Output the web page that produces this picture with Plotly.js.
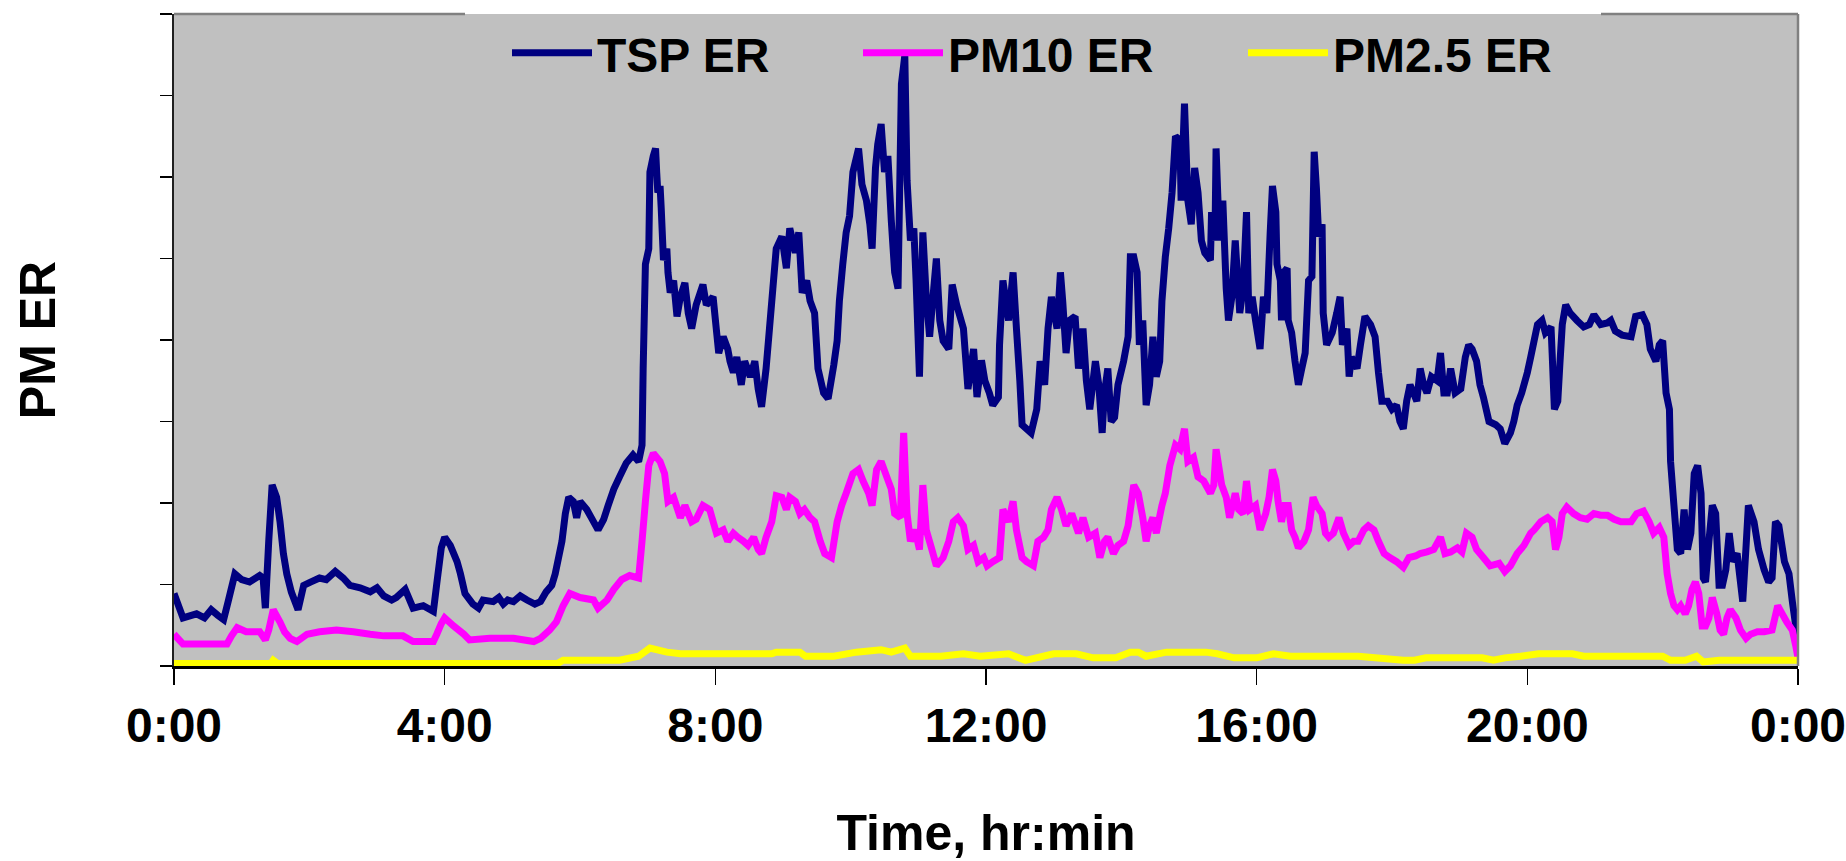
<!DOCTYPE html>
<html><head><meta charset="utf-8">
<script src="https://cdn.plot.ly/plotly-3.0.1.min.js"></script>
<style>html,body{margin:0;padding:0;background:#fff}#chart{width:1846px;height:861px}</style>
</head><body><div id="chart"></div>
<script>
// time in minutes after midnight, values in arbitrary PM ER units (axis unlabeled)
const tspMin = [0,8,20,27,33,39,44,48,54,60,67,76,79,81,84,87,91,94,97,100,104,110,115,121,129,135,143,150,156,165,174,180,186,193,197,205,212,221,230,233,237,240,245,251,254,258,265,270,274,283,288,292,296,301,307,313,320,325,330,335,338,341,344,347,350,354,357,360,366,370,376,381,385,390,395,401,407,412,415,416,418,421,422,425,427,428,429,431,432,434,437,438,440,443,446,449,453,456,459,463,469,472,478,483,487,491,493,496,499,503,506,511,515,518,521,525,528,531,534,539,543,546,551,554,557,561,564,568,571,576,580,585,588,590,593,596,599,602,607,610,614,617,619,622,624,627,630,633,636,639,642,645,648,650,653,656,658,661,664,667,670,673,676,679,682,687,690,694,700,704,709,712,716,719,723,726,731,732,735,740,744,747,750,752,756,760,765,768,772,775,778,783,786,788,791,794,799,802,806,809,812,817,820,823,825,828,831,834,837,842,846,848,851,854,856,859,862,865,868,871,874,876,879,882,885,888,892,893,896,899,902,905,908,911,914,919,920,923,924,927,930,933,935,938,941,945,948,951,953,956,959,963,966,969,972,974,977,978,981,982,984,987,988,991,994,997,1000,1003,1006,1009,1011,1013,1015,1018,1019,1022,1027,1031,1034,1036,1040,1042,1044,1049,1052,1056,1061,1065,1068,1071,1076,1080,1084,1087,1090,1093,1096,1099,1102,1105,1108,1111,1115,1120,1123,1126,1129,1132,1136,1141,1145,1148,1151,1155,1158,1161,1166,1172,1176,1180,1185,1188,1191,1195,1200,1203,1206,1209,1213,1216,1221,1222,1224,1227,1229,1231,1234,1238,1244,1250,1255,1259,1265,1271,1274,1278,1284,1292,1296,1302,1306,1309,1314,1317,1320,1323,1326,1327,1330,1333,1336,1339,1342,1345,1348,1351,1354,1356,1358,1361,1364,1367,1370,1373,1376,1379,1382,1386,1391,1394,1396,1401,1405,1410,1414,1417,1420,1423,1428,1432,1435,1438,1440];
const tspVal = [0.89,0.59,0.64,0.59,0.69,0.62,0.57,0.79,1.13,1.06,1.03,1.11,1.08,0.71,1.53,2.22,2.07,1.77,1.38,1.13,0.91,0.69,0.99,1.03,1.08,1.06,1.16,1.08,0.99,0.96,0.91,0.96,0.86,0.81,0.84,0.94,0.71,0.74,0.67,1.01,1.45,1.58,1.48,1.28,1.13,0.89,0.76,0.71,0.81,0.79,0.84,0.76,0.81,0.79,0.86,0.81,0.76,0.79,0.91,0.99,1.13,1.33,1.53,1.87,2.07,2.02,1.82,2.02,1.92,1.82,1.67,1.80,1.97,2.17,2.32,2.49,2.59,2.51,2.71,3.65,4.93,5.12,6.06,6.26,6.35,6.06,5.81,5.89,5.62,4.98,5.12,4.83,4.58,4.73,4.29,4.53,4.70,4.33,4.14,4.43,4.68,4.43,4.53,3.84,4.04,3.89,3.74,3.60,3.79,3.45,3.74,3.55,3.74,3.40,3.18,3.65,4.14,4.63,5.12,5.27,4.88,5.37,5.07,5.32,4.58,4.73,4.48,4.33,3.65,3.35,3.28,3.69,3.99,4.48,4.93,5.32,5.52,6.06,6.35,5.91,5.71,5.42,5.12,6.11,6.40,6.65,6.06,6.26,5.47,4.83,4.63,7.14,7.49,5.96,5.22,5.37,4.73,3.55,5.32,4.53,4.04,4.53,5.00,4.24,3.99,3.89,4.68,4.43,4.14,3.40,3.89,3.30,3.75,3.50,3.35,3.20,3.30,3.94,4.73,4.24,4.83,4.14,3.50,2.96,2.91,2.86,3.15,3.74,3.45,4.14,4.53,4.14,4.83,4.48,3.84,4.24,4.29,3.65,4.14,3.50,3.15,3.74,3.45,2.86,3.35,3.65,3.00,3.05,3.45,3.74,4.04,5.02,5.02,4.83,3.94,4.24,3.20,3.45,4.04,3.55,3.74,4.48,5.02,5.37,5.81,6.50,6.45,5.71,6.90,5.71,5.42,6.11,5.81,5.22,5.07,4.98,5.57,5.22,6.35,5.22,5.71,4.63,4.24,4.53,5.22,4.33,4.63,5.57,4.33,4.53,4.24,3.89,4.53,4.33,5.32,5.89,5.57,4.93,4.73,4.24,4.83,4.88,4.24,4.09,3.74,3.45,3.65,3.84,4.73,4.78,6.31,5.86,5.27,5.42,4.33,3.94,4.09,4.33,4.53,3.94,4.14,3.55,3.79,3.65,3.94,4.29,4.19,4.04,3.60,3.25,3.25,3.15,3.20,3.00,2.91,3.25,3.45,3.35,3.25,3.65,3.45,3.35,3.55,3.50,3.84,3.35,3.35,3.65,3.35,3.40,3.79,3.94,3.89,3.74,3.45,3.30,3.00,2.96,2.91,2.73,2.86,3.00,3.20,3.35,3.60,3.79,3.99,4.19,4.24,4.09,4.16,3.84,3.15,3.25,3.74,4.19,4.43,4.33,4.24,4.16,4.19,4.31,4.19,4.21,4.24,4.11,4.06,4.04,4.29,4.31,4.19,3.89,3.74,3.94,3.99,3.35,3.15,2.51,1.97,1.43,1.38,1.92,1.43,1.63,2.36,2.46,2.12,1.08,1.03,1.53,1.97,1.87,0.99,0.99,1.18,1.63,1.28,1.38,0.79,1.48,1.97,1.77,1.43,1.18,1.03,1.08,1.77,1.72,1.28,1.13,0.79,0.49,0.25];

const pm10Min = [0,8,26,47,51,56,64,76,81,84,88,94,98,103,109,118,129,144,159,174,186,203,212,230,233,237,240,248,257,262,280,301,319,325,333,339,345,351,360,372,376,384,390,397,404,412,415,418,421,425,431,435,438,443,449,453,459,463,469,475,481,487,491,496,500,505,509,514,518,521,525,530,534,539,543,546,551,555,559,564,568,573,577,583,588,592,596,602,607,611,616,619,623,627,632,636,639,644,647,650,653,657,661,664,667,672,676,682,687,691,695,700,704,709,713,718,721,726,732,735,740,744,747,752,756,762,766,771,775,778,783,787,791,796,802,806,811,817,821,825,828,833,837,842,846,851,855,859,862,865,868,871,876,879,883,888,892,896,899,904,908,913,919,922,924,929,933,936,941,944,948,951,954,959,963,968,971,974,977,979,982,985,988,991,994,997,1002,1006,1008,1010,1013,1018,1021,1024,1028,1033,1037,1042,1046,1050,1055,1059,1064,1068,1073,1078,1084,1090,1095,1101,1105,1111,1117,1123,1127,1132,1138,1142,1146,1151,1155,1161,1167,1175,1180,1185,1191,1197,1203,1206,1212,1218,1222,1225,1228,1231,1235,1241,1247,1253,1259,1265,1271,1277,1283,1292,1297,1303,1308,1312,1317,1321,1324,1327,1330,1333,1336,1340,1343,1346,1349,1352,1355,1358,1361,1364,1368,1371,1374,1377,1380,1385,1389,1394,1398,1404,1410,1417,1422,1426,1430,1435,1438,1440];
const pm10Val = [0.39,0.27,0.27,0.27,0.37,0.47,0.42,0.42,0.32,0.44,0.69,0.54,0.42,0.34,0.30,0.39,0.42,0.44,0.42,0.39,0.37,0.37,0.30,0.30,0.39,0.52,0.59,0.49,0.39,0.32,0.34,0.34,0.30,0.34,0.44,0.54,0.74,0.89,0.84,0.81,0.71,0.81,0.94,1.06,1.11,1.08,1.53,2.02,2.46,2.61,2.51,2.36,2.02,2.07,1.82,1.97,1.77,1.80,1.97,1.92,1.63,1.67,1.53,1.63,1.58,1.53,1.48,1.58,1.43,1.38,1.58,1.77,2.09,2.07,1.92,2.07,2.02,1.87,1.92,1.82,1.77,1.53,1.38,1.33,1.77,1.97,2.12,2.36,2.41,2.27,2.12,1.97,2.41,2.51,2.32,2.17,1.87,1.82,2.86,1.87,1.53,1.67,1.43,2.22,1.67,1.43,1.23,1.33,1.53,1.77,1.82,1.72,1.43,1.48,1.28,1.33,1.23,1.28,1.33,1.92,1.77,2.02,1.67,1.33,1.28,1.23,1.53,1.58,1.67,1.92,2.07,1.92,1.72,1.87,1.63,1.82,1.58,1.63,1.33,1.53,1.58,1.38,1.48,1.53,1.72,2.22,2.12,1.82,1.53,1.72,1.82,1.63,1.97,2.12,2.46,2.71,2.66,2.91,2.51,2.56,2.32,2.27,2.12,2.22,2.66,2.22,2.07,1.82,2.12,1.92,1.87,2.27,1.92,1.97,1.67,1.87,2.07,2.41,2.27,2.02,1.77,1.97,1.97,1.67,1.58,1.45,1.53,1.67,1.87,2.07,1.97,1.87,1.63,1.58,1.63,1.82,1.63,1.48,1.53,1.53,1.67,1.72,1.67,1.53,1.38,1.33,1.28,1.21,1.33,1.35,1.38,1.40,1.43,1.58,1.38,1.40,1.45,1.40,1.63,1.58,1.43,1.33,1.23,1.26,1.16,1.23,1.38,1.48,1.63,1.67,1.77,1.82,1.77,1.43,1.58,1.87,1.95,1.87,1.82,1.80,1.87,1.85,1.85,1.80,1.77,1.77,1.87,1.90,1.77,1.63,1.70,1.58,1.13,0.89,0.74,0.69,0.74,0.64,0.74,0.94,1.03,0.89,0.49,0.49,0.59,0.84,0.64,0.44,0.39,0.59,0.69,0.59,0.44,0.34,0.39,0.42,0.42,0.44,0.74,0.64,0.54,0.44,0.25,0.10];

const pm25Min = [0,86,88,92,340,345,395,412,422,437,449,500,530,534,555,560,585,605,627,636,648,653,680,700,715,740,755,780,800,815,835,848,855,862,880,900,915,925,940,960,975,990,1000,1050,1090,1100,1110,1160,1170,1180,1194,1210,1240,1250,1320,1327,1340,1350,1356,1370,1440];
const pm25Val = [0.03,0.03,0.07,0.03,0.03,0.07,0.07,0.12,0.22,0.17,0.15,0.15,0.15,0.17,0.17,0.12,0.12,0.17,0.20,0.17,0.22,0.12,0.12,0.15,0.12,0.15,0.07,0.15,0.15,0.10,0.10,0.17,0.17,0.12,0.17,0.17,0.17,0.15,0.10,0.10,0.15,0.12,0.12,0.12,0.07,0.07,0.10,0.10,0.07,0.10,0.12,0.15,0.15,0.12,0.12,0.07,0.07,0.12,0.05,0.07,0.07];

const tickMinutes = [0,240,480,720,960,1200,1440];
const tickLabels = ['0:00','4:00','8:00','12:00','16:00','20:00','0:00'];
const seriesNames = ['TSP ER','PM10 ER','PM2.5 ER'];
const seriesColors = ['#000080','#FF00FF','#FFFF00'];

const FONT = 'Liberation Sans, Arial, sans-serif';
const bold = (s) => ({family: FONT, size: s, color: '#000', weight: 'bold'});

const xs = [tspMin, pm10Min, pm25Min];
const ys = [tspVal, pm10Val, pm25Val];
const legendIds = ['legend','legend2','legend3'];
const traces = xs.map((x, i) => ({
  type: 'scatter', mode: 'lines', x: x, y: ys[i], name: seriesNames[i],
  line: {color: seriesColors[i], width: 7, simplify: false},
  legend: legendIds[i], hoverinfo: 'skip'
}));

const W = 1846, H = 861, L = 174, R = 48, T = 14, B = 195;
const pw = W - L - R;
const px = (p) => (p - L) / pw;
const legCommon = {
  orientation: 'h', bgcolor: 'rgba(0,0,0,0)', borderwidth: 0,
  font: bold(48), itemwidth: 80, yanchor: 'middle', y: 0.94, xanchor: 'left'
};

const layout = {
  width: W, height: H,
  margin: {l: L, r: R, t: T, b: B, autoexpand: false},
  paper_bgcolor: '#ffffff', plot_bgcolor: '#C0C0C0',
  showlegend: true,
  legend: Object.assign({}, legCommon, {x: px(507)}),
  legend2: Object.assign({}, legCommon, {x: px(858)}),
  legend3: Object.assign({}, legCommon, {x: px(1243)}),
  xaxis: {
    range: [0, 1440], tickmode: 'array', tickvals: tickMinutes, ticktext: tickLabels,
    ticks: 'outside', ticklen: 16, tickwidth: 1.5, tickcolor: '#000',
    showline: true, linecolor: '#000', linewidth: 2.5, showgrid: false, zeroline: false,
    tickfont: bold(48), ticklabelstandoff: 0, ticklabeloverflow: 'allow', automargin: false,
    title: {text: 'Time, hr:min', font: bold(50), standoff: 85}
  },
  yaxis: {
    range: [0, 8], dtick: 1, tick0: 0, showticklabels: false,
    ticks: 'outside', ticklen: 12, tickwidth: 1.5, tickcolor: '#000',
    showline: true, linecolor: '#202020', linewidth: 2.5, showgrid: false, zeroline: false,
    automargin: false,
    title: {text: 'PM ER', font: bold(50), standoff: 88}
  },
  shapes: [
    {type: 'line', xref: 'paper', yref: 'paper', x0: 0, x1: px(465), y0: 1, y1: 1, line: {color: '#808080', width: 2.5}},
    {type: 'line', xref: 'paper', yref: 'paper', x0: px(1601), x1: 1, y0: 1, y1: 1, line: {color: '#808080', width: 2.5}},
    {type: 'line', xref: 'paper', yref: 'paper', x0: 1, x1: 1, y0: 0, y1: 1, line: {color: '#808080', width: 2.5}}
  ]
};

Plotly.newPlot('chart', traces, layout, {displayModeBar: false, staticPlot: true});
</script>
</body></html>
